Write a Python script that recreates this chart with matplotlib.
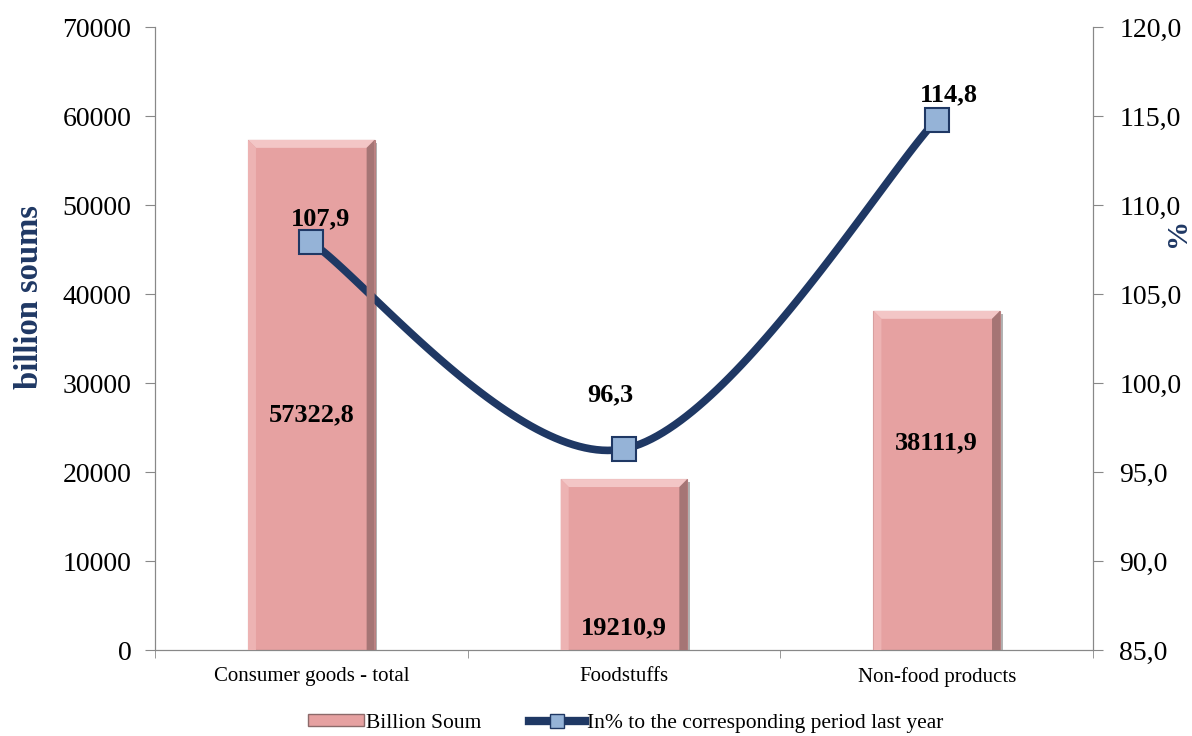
import numpy as np
import matplotlib
matplotlib.use("Agg")
import matplotlib.pyplot as plt
import matplotlib.patheffects as pe
from matplotlib.ticker import FuncFormatter, MultipleLocator
from matplotlib.lines import Line2D
from matplotlib.patches import Patch, Polygon

plt.rcParams['font.family'] = ['Liberation Serif', 'DejaVu Serif']

categories = ["Consumer goods - total", "Foodstuffs", "Non-food products"]
billion_soum = [57322.8, 19210.9, 38111.9]
pct_last_year = [107.9, 96.3, 114.8]
bar_label_text = ["57322,8", "19210,9", "38111,9"]
pct_label_text = ["107,9", "96,3", "114,8"]

NAVY = "#1F3864"
BAR = "#E6A1A1"
MARK = "#95B3D7"
SPINE = "#888888"

fig = plt.figure(figsize=(11.92, 7.36), dpi=100)
ax = fig.add_axes([0.130, 0.1168, 0.787, 0.8465])
ax2 = ax.twinx()

x = np.arange(len(categories))
bars = ax.bar(x, billion_soum, width=0.405, color=BAR, edgecolor="#B98080", linewidth=0.8,
              path_effects=[pe.SimplePatchShadow(offset=(2, -2), shadow_rgbFace="#666666", alpha=0.5), pe.Normal()],
              zorder=2)

ax.set_xlim(-0.5, 2.5)
ax.set_ylim(0, 70000)
ax.yaxis.set_major_locator(MultipleLocator(10000))
ax.set_xticks(x)
ax.set_xticklabels(categories, fontsize=15)
ax.set_xticks(np.arange(-0.5, 3.0, 1.0), minor=True)
ax.tick_params(axis='x', which='major', length=0, pad=12)
ax.tick_params(axis='x', which='minor', length=6, color=SPINE)
ax.tick_params(axis='y', labelsize=20, length=7, color=SPINE, pad=10)
ax.set_ylabel("billion soums", fontsize=23.5, fontweight='bold', color=NAVY)
ax.yaxis.set_label_coords(-0.117, 0.567)
ax.spines['top'].set_visible(False)
ax2.spines['top'].set_visible(False)
for s in ['left', 'bottom', 'right']:
    ax.spines[s].set_color(SPINE)
    ax2.spines[s].set_color(SPINE)

# bevel effect on bars (pixel space, derived from each bar's geometry)
fig.canvas.draw()
bw = 8
for r in bars:
    (x0, y0), (x1, y1) = ax.transData.transform([(r.get_x(), 0), (r.get_x() + r.get_width(), r.get_height())])
    polys = [
        ([(x0, y1), (x1, y1), (x1 - bw, y1 - bw), (x0 + bw, y1 - bw)], "#F3C6C6"),  # top
        ([(x0, y0), (x0, y1), (x0 + bw, y1 - bw), (x0 + bw, y0)], "#EDB3B3"),      # left
        ([(x1, y0), (x1, y1), (x1 - bw, y1 - bw), (x1 - bw, y0)], "#A57575"),      # right
    ]
    for pts, c in polys:
        fig.add_artist(Polygon(pts, closed=True, facecolor=c, edgecolor='none', transform=None, zorder=1.5))

# smoothed line (Catmull-Rom Bezier like spreadsheet smoothing)
px = x.astype(float)
py = np.array(pct_last_year, dtype=float)
sx, sy = [], []
n = len(px)
for i in range(n - 1):
    p0 = (px[max(i - 1, 0)], py[max(i - 1, 0)])
    p1 = (px[i], py[i])
    p2 = (px[i + 1], py[i + 1])
    p3 = (px[min(i + 2, n - 1)], py[min(i + 2, n - 1)])
    c1 = (p1[0] + (p2[0] - p0[0]) / 6, p1[1] + (p2[1] - p0[1]) / 6)
    c2 = (p2[0] - (p3[0] - p1[0]) / 6, p2[1] - (p3[1] - p1[1]) / 6)
    t = np.linspace(0, 1, 60)
    bx = (1-t)**3*p1[0] + 3*(1-t)**2*t*c1[0] + 3*(1-t)*t**2*c2[0] + t**3*p2[0]
    by = (1-t)**3*p1[1] + 3*(1-t)**2*t*c1[1] + 3*(1-t)*t**2*c2[1] + t**3*p2[1]
    sx.extend(bx); sy.extend(by)
ax2.plot(sx, sy, color=NAVY, linewidth=5.5, solid_capstyle='round', zorder=3)
ax2.plot(px, py, linestyle='none', marker='s', markersize=17, markerfacecolor=MARK,
         markeredgecolor=NAVY, markeredgewidth=1.5, zorder=4)

ax2.set_ylim(85, 120)
ax2.yaxis.set_major_locator(MultipleLocator(5))
ax2.yaxis.set_major_formatter(FuncFormatter(lambda v, p: f"{v:.1f}".replace('.', ',')))
ax2.tick_params(axis='y', labelsize=20, length=7, color=SPINE, pad=12)
ax2.set_ylabel("%", fontsize=21, fontweight='bold', color=NAVY, rotation=90)
ax2.yaxis.set_label_coords(1.076, 0.671)

# bar labels
bar_label_y = [26400, 2470, 23260]
for xi, yy, t in zip(x, bar_label_y, bar_label_text):
    ax.text(xi, yy, t, ha='center', va='center', fontsize=19, fontweight='bold', zorder=5)

# line labels
offsets = [(7, 17), (-10, 39), (9, 18)]
for xi, yi, t, off in zip(px, py, pct_label_text, offsets):
    ax2.annotate(t, (xi, yi), xytext=off, textcoords='offset points', ha='center', va='center',
                 fontsize=19, fontweight='bold', zorder=5)

handles = [Patch(facecolor=BAR, edgecolor="#8C6A6A"),
           Line2D([0], [0], color=NAVY, linewidth=6, marker='s', markersize=10,
                  markerfacecolor=MARK, markeredgecolor=NAVY)]
fig.legend(handles, ["Billion Soum", "In% to the corresponding period last year"],
           loc='lower center', bbox_to_anchor=(0.525, -0.022), ncol=2, frameon=False,
           fontsize=15.5, handlelength=2.6, handleheight=0.5, handletextpad=0.1, columnspacing=2.2)

fig.savefig("out.png", dpi=100)
